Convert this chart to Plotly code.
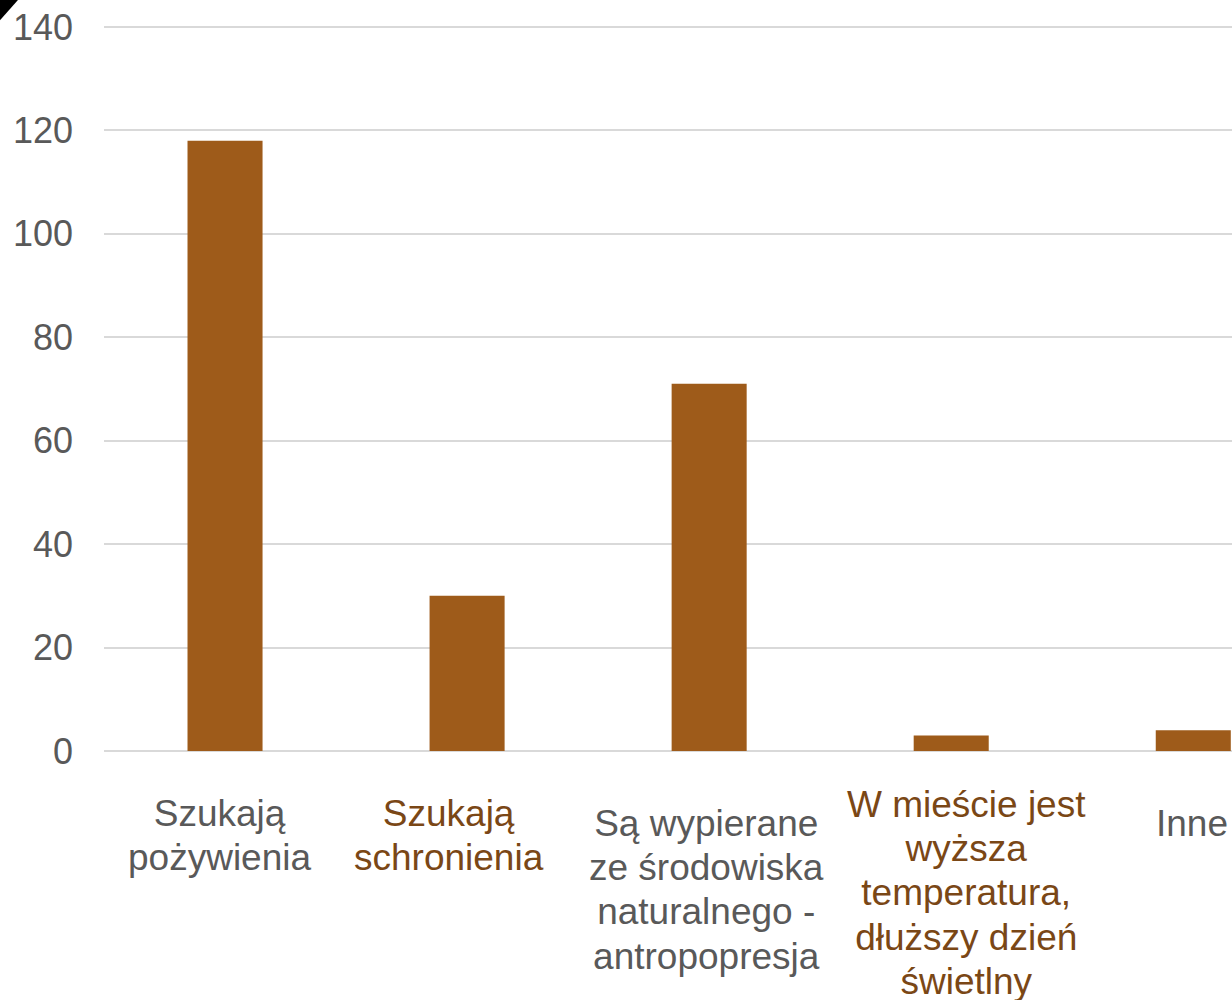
import plotly.graph_objects as go

categories = [
    "Szukają pożywienia",
    "Szukają schronienia",
    "Są wypierane ze środowiska naturalnego - antropopresja",
    "W mieście jest wyższa temperatura, dłuższy dzień świetlny",
    "Inne",
]
label_lines = [
    ["Szukają", "pożywienia"],
    ["Szukają", "schronienia"],
    ["Są wypierane", "ze środowiska", "naturalnego -", "antropopresja"],
    ["W mieście jest", "wyższa", "temperatura,", "dłuższy dzień", "świetlny"],
    ["Inne"],
]
values = [118, 30, 71, 3, 4]
y_ticks = [0, 20, 40, 60, 80, 100, 120, 140]

# styling (not data)
label_colors = ["#595959", "#7a4716", "#595959", "#7a4716", "#595959"]
label_xshift = [-6, -18, -3, 15, -1]
label_yshift = [-40, -40, -50, -31, -50]

BAR = "#9e5b1a"
FONT = "Liberation Sans, Arial, sans-serif"


def make_label(lines, color):
    return "<br>".join(
        f"<span style='font-size:37px;color:{color}'>{ln}</span>" for ln in lines
    )


fig = go.Figure()
fig.add_trace(go.Bar(
    x=categories,
    y=values,
    marker=dict(color=BAR, line=dict(width=0)),
    width=0.31,
    hoverinfo="x+y",
))

for cat, lines, col, dx, dy in zip(categories, label_lines, label_colors,
                                   label_xshift, label_yshift):
    fig.add_annotation(
        x=cat, y=0, xref="x", yref="y",
        text=make_label(lines, col),
        showarrow=False,
        xanchor="center", yanchor="top",
        align="center",
        xshift=dx, yshift=dy,
        font=dict(size=34, family=FONT, color=col),
    )

fig.update_layout(
    width=1232,
    height=1000,
    margin=dict(l=104, r=0, t=26, b=249),
    paper_bgcolor="white",
    plot_bgcolor="white",
    showlegend=False,
    font=dict(family=FONT, color="#595959"),
    xaxis=dict(
        type="category",
        range=[-0.5, 4.16],
        showticklabels=False,
        showgrid=False,
        showline=False,
        ticks="",
        fixedrange=True,
    ),
    yaxis=dict(
        range=[0, 140.2],
        tickmode="array",
        tickvals=y_ticks,
        ticktext=[str(v) for v in y_ticks],
        tickfont=dict(size=36, family=FONT, color="#595959"),
        showgrid=True,
        gridcolor="#d9d9d9",
        gridwidth=2,
        zeroline=True,
        zerolinecolor="#d9d9d9",
        zerolinewidth=2,
        showline=False,
        ticks="",
        ticklabelstandoff=30,
        fixedrange=True,
    ),
)

# small dark corner mark in the top-left of the original picture
fig.add_shape(
    type="path",
    xref="paper", yref="paper",
    path="M -0.0922 1.036 L -0.0762 1.036 L -0.0922 1.008 Z",
    fillcolor="black",
    line=dict(width=0),
    layer="above",
)

fig.write_html(
    "out.html",
    config={"displayModeBar": False},
    post_script="document.body.style.margin='0px';",
)
